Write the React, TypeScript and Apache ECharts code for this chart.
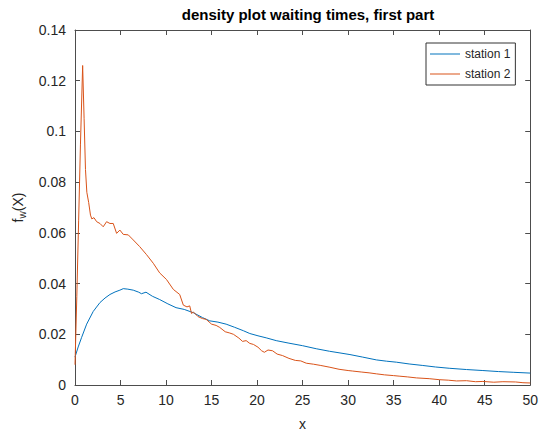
import React, { useEffect, useRef } from "react";
import * as echarts from "echarts";

const titleText = "density plot waiting times, first part";
const seriesNames = ["station 1", "station 2"];

const station1X = [0, 0.35, 0.73, 1.28, 2.0, 2.74, 3.3, 3.84, 4.4, 4.93, 5.3, 5.8, 6.4, 7.0, 7.3, 7.8, 8.5, 9.3, 10.2, 11.1, 12.0, 13.0, 14.0, 14.8, 15.7, 16.6, 17.5, 18.5, 19.2, 20.1, 21.0, 22.1, 23.5, 25.0, 26.5, 27.96, 29.0, 30.2, 31.6, 33.1, 34.2, 35.3, 36.7, 38.2, 39.6, 41.1, 43.0, 44.8, 46.5, 48.2, 50];
const station1Y = [0.011, 0.015, 0.0188, 0.024, 0.029, 0.0325, 0.0343, 0.0357, 0.0367, 0.0374, 0.038, 0.0378, 0.0374, 0.0366, 0.036, 0.0366, 0.035, 0.0337, 0.032, 0.0305, 0.0298, 0.0285, 0.0266, 0.0253, 0.0248, 0.024, 0.0228, 0.0214, 0.0203, 0.0194, 0.0186, 0.0175, 0.0165, 0.0155, 0.0143, 0.0133, 0.0127, 0.012, 0.011, 0.0099, 0.0094, 0.009, 0.0083, 0.0077, 0.0071, 0.0066, 0.0061, 0.0057, 0.0053, 0.005, 0.0047];

const station2X = [0, 0.2, 0.4, 0.6, 0.84, 1.0, 1.15, 1.3, 1.5, 1.7, 1.85, 2.08, 2.38, 2.74, 3.1, 3.47, 3.84, 4.2, 4.57, 4.93, 5.3, 5.85, 6.4, 7.1, 7.86, 8.6, 9.3, 10.05, 10.8, 11.5, 11.9, 12.3, 12.6, 12.8, 13.0, 13.5, 14.0, 14.4, 15.0, 15.5, 15.9, 16.5, 17.0, 17.4, 18.0, 18.4, 18.8, 19.2, 19.6, 20.1, 20.5, 20.8, 21.2, 21.7, 22.2, 22.8, 23.5, 24.2, 24.8, 25.4, 26.2, 27.0, 28.0, 29.0, 30.0, 30.5, 31.5, 32.3, 33.1, 34.0, 35.0, 35.6, 36.5, 37.5, 38.9, 40.0, 41.0, 41.9, 43.0, 44.0, 44.8, 46.0, 47.0, 48.4, 49.2, 50];
const station2Y = [0.008, 0.035, 0.065, 0.095, 0.126, 0.105, 0.085, 0.076, 0.072, 0.067, 0.0655, 0.066, 0.0644, 0.0637, 0.0624, 0.0644, 0.0637, 0.0637, 0.0598, 0.0611, 0.0594, 0.0592, 0.0572, 0.0546, 0.0514, 0.048, 0.0442, 0.0416, 0.0377, 0.0357, 0.0315, 0.0308, 0.0312, 0.0282, 0.0288, 0.027, 0.0262, 0.0259, 0.024, 0.0235, 0.0227, 0.021, 0.0205, 0.02, 0.0185, 0.0172, 0.0175, 0.0164, 0.016, 0.0149, 0.0135, 0.0129, 0.0138, 0.0135, 0.0122, 0.0116, 0.0105, 0.0097, 0.0095, 0.0086, 0.0082, 0.0077, 0.007, 0.0062, 0.0057, 0.0055, 0.0051, 0.0048, 0.0044, 0.004, 0.0037, 0.0035, 0.0032, 0.0028, 0.0025, 0.0021, 0.0019, 0.0016, 0.0017, 0.0013, 0.0014, 0.0011, 0.0013, 0.0012, 0.0009, 0.0008];

const xMin = 0, xMax = 50, xStep = 5;
const yMin = 0, yMax = 0.14, yStep = 0.02;

const FONT = "'Liberation Sans', Arial, sans-serif";
const AX = "#4d4d4d";
const TXT = "#262626";

export default function App() {
  const ref = useRef<HTMLDivElement>(null);
  useEffect(() => {
    if (!ref.current) return;
    const chart = echarts.init(ref.current, null, { renderer: "svg" });
    const pairs = (xs: number[], ys: number[]) => xs.map((x, i) => [x, ys[i]]);
    const axisCommon = {
      axisLine: { show: true, onZero: false, lineStyle: { color: AX, width: 1 } },
      axisTick: { show: true, inside: true, length: 5, lineStyle: { color: AX } },
      splitLine: { show: false },
    };
    chart.setOption({
      animation: false,
      backgroundColor: "#ffffff",
      title: {
        text: titleText,
        left: 303,
        textAlign: "center",
        top: 2,
        textStyle: { fontFamily: FONT, fontSize: 15, fontWeight: "bold", color: "#000" },
      },
      grid: { left: 75, right: 10, top: 30, bottom: 48, containLabel: false },
      legend: {
        orient: "vertical",
        left: 426,
        top: 43,
        data: seriesNames,
        icon: "rect",
        itemWidth: 30,
        itemHeight: 1,
        itemGap: 8,
        padding: [5, 5, 5, 4],
        borderColor: "#333",
        borderWidth: 1,
        backgroundColor: "#fff",
        textStyle: { fontFamily: FONT, fontSize: 12, color: TXT },
      },
      xAxis: [
        {
          type: "value",
          min: xMin,
          max: xMax,
          interval: xStep,
          position: "bottom",
          name: "x",
          nameLocation: "middle",
          nameGap: 32,
          nameTextStyle: { fontFamily: FONT, fontSize: 14, color: TXT },
          axisLabel: { fontFamily: FONT, fontSize: 14, color: TXT, margin: 8 },
          ...axisCommon,
        },
        {
          type: "value",
          min: xMin,
          max: xMax,
          interval: xStep,
          position: "top",
          axisLabel: { show: false },
          ...axisCommon,
        },
      ],
      yAxis: [
        {
          type: "value",
          min: yMin,
          max: yMax,
          interval: yStep,
          position: "left",
          name: "f{sub|w}(X)",
          nameLocation: "middle",
          nameGap: 48,
          nameTextStyle: {
            fontFamily: FONT,
            fontSize: 14,
            color: TXT,
            rich: { sub: { fontFamily: FONT, fontSize: 10, color: TXT, verticalAlign: "bottom", padding: [8, 0, 0, 0] } },
          },
          axisLabel: { fontFamily: FONT, fontSize: 14, color: TXT, margin: 9 },
          ...axisCommon,
        },
        {
          type: "value",
          min: yMin,
          max: yMax,
          interval: yStep,
          position: "right",
          axisLabel: { show: false },
          ...axisCommon,
        },
      ],
      series: [
        {
          name: seriesNames[0],
          type: "line",
          data: pairs(station1X, station1Y),
          symbol: "none",
          lineStyle: { color: "#0072BD", width: 1 },
          itemStyle: { color: "#0072BD" },
        },
        {
          name: seriesNames[1],
          type: "line",
          data: pairs(station2X, station2Y),
          symbol: "none",
          lineStyle: { color: "#D95319", width: 1 },
          itemStyle: { color: "#D95319" },
        },
      ],
    });
    return () => chart.dispose();
  }, []);
  return <div ref={ref} style={{ width: 541, height: 436, position: "absolute", left: 0, top: 0 }} />;
}
